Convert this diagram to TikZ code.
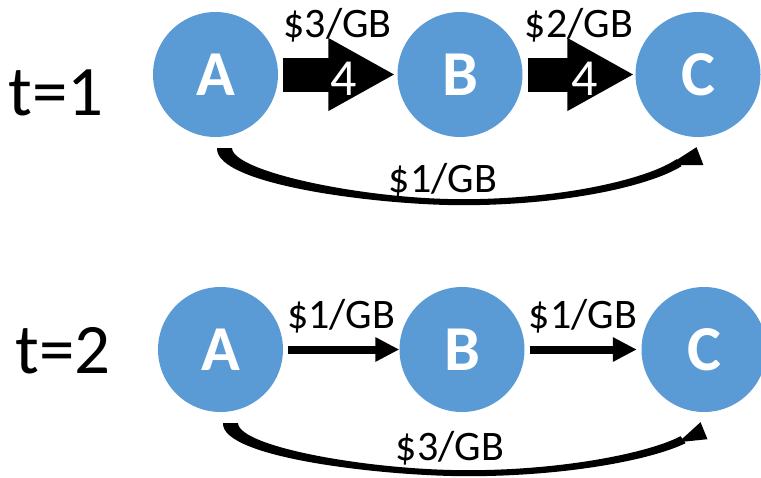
\documentclass[tikz,border=0pt]{standalone}
\usepackage{fontspec}
\setmainfont{Carlito}
\usetikzlibrary{arrows.meta}
\definecolor{siteblue}{HTML}{5B9BD5}
\tikzset{
	site/.style={circle,fill=siteblue,text=white,minimum size=125pt,inner sep=0pt,font=\fontsize{64}{64}\selectfont\bfseries},
	cost/.style={font=\fontsize{42}{42}\selectfont,anchor=base},
	slot/.style={font=\fontsize{71}{71}\selectfont,anchor=base},
	amount/.style={text=white,font=\fontsize{52}{52}\selectfont},
	bigflow/.style={line width=34pt,-{Triangle[length=67pt,width=68pt]}},
	smallflow/.style={line width=8pt,-{Triangle[length=24pt,width=23pt]}},
}
\begin{document}
\begin{tikzpicture}[x=1pt,y=-1pt]
	\useasboundingbox (0,0) rectangle (761,477);
	% t=1
	\node[slot] (t1) at (56,115) {t=1};
	\node[site] (A1) at (215.5,74.5) {A};
	\node[site] (B1) at (460,74.5) {B};
	\node[site] (C1) at (698,74.5) {C};
	\draw[bigflow,shorten <=5pt,shorten >=2pt] (A1) -- (B1)
		node[amount,pos=.55,yshift=-4pt] (f1) {4}
		node[cost,midway,yshift=37pt] (p1) {\$3/GB};
	\draw[bigflow,shorten <=5pt,shorten >=1pt] (B1) -- (C1)
		node[amount,pos=.55,yshift=-4pt] (f2) {4}
		node[cost,midway,yshift=37pt] (p2) {\$2/GB};
	\fill[shift={(A1.south)}] (1.5,11) .. controls (0,48) and (165,68) .. (247,68)
		.. controls (345,68) and (432,50) .. (466,29) -- (461,22)
		.. controls (432,42) and (345,62) .. (247,62)
		.. controls (150,62) and (18,35) .. (16.5,11) -- cycle;
	\fill[shift={(A1.south)}] (453,28) -- (481,10) -- (488,28) -- cycle;
	\node[cost] (p3) at (443,192) {\$1/GB};
	% t=2
	\node[slot] (t2) at (63,373) {t=2};
	\node[site] (A2) at (220.5,349.5) {A};
	\node[site] (B2) at (462,349.5) {B};
	\node[site] (C2) at (704,349.5) {C};
	\draw[smallflow,shorten <=5pt] (A2) -- (B2)
		node[cost,midway,yshift=21.5pt] (p4) {\$1/GB};
	\draw[smallflow,shorten <=5.5pt,shorten >=4.5pt] (B2) -- (C2)
		node[cost,midway,yshift=21.5pt] (p5) {\$1/GB};
	\fill[shift={(A2.south)}] (2.5,11) .. controls (1,46) and (165,64) .. (247,64)
		.. controls (345,64) and (430,48) .. (465,31) -- (460,24)
		.. controls (430,40) and (345,58) .. (247,58)
		.. controls (150,58) and (19,35) .. (17.5,11) -- cycle;
	\fill[shift={(A2.south)}] (458,30) -- (480,10) -- (487,27) -- cycle;
	\node[cost] (p6) at (450,460) {\$3/GB};
\end{tikzpicture}
\end{document}
